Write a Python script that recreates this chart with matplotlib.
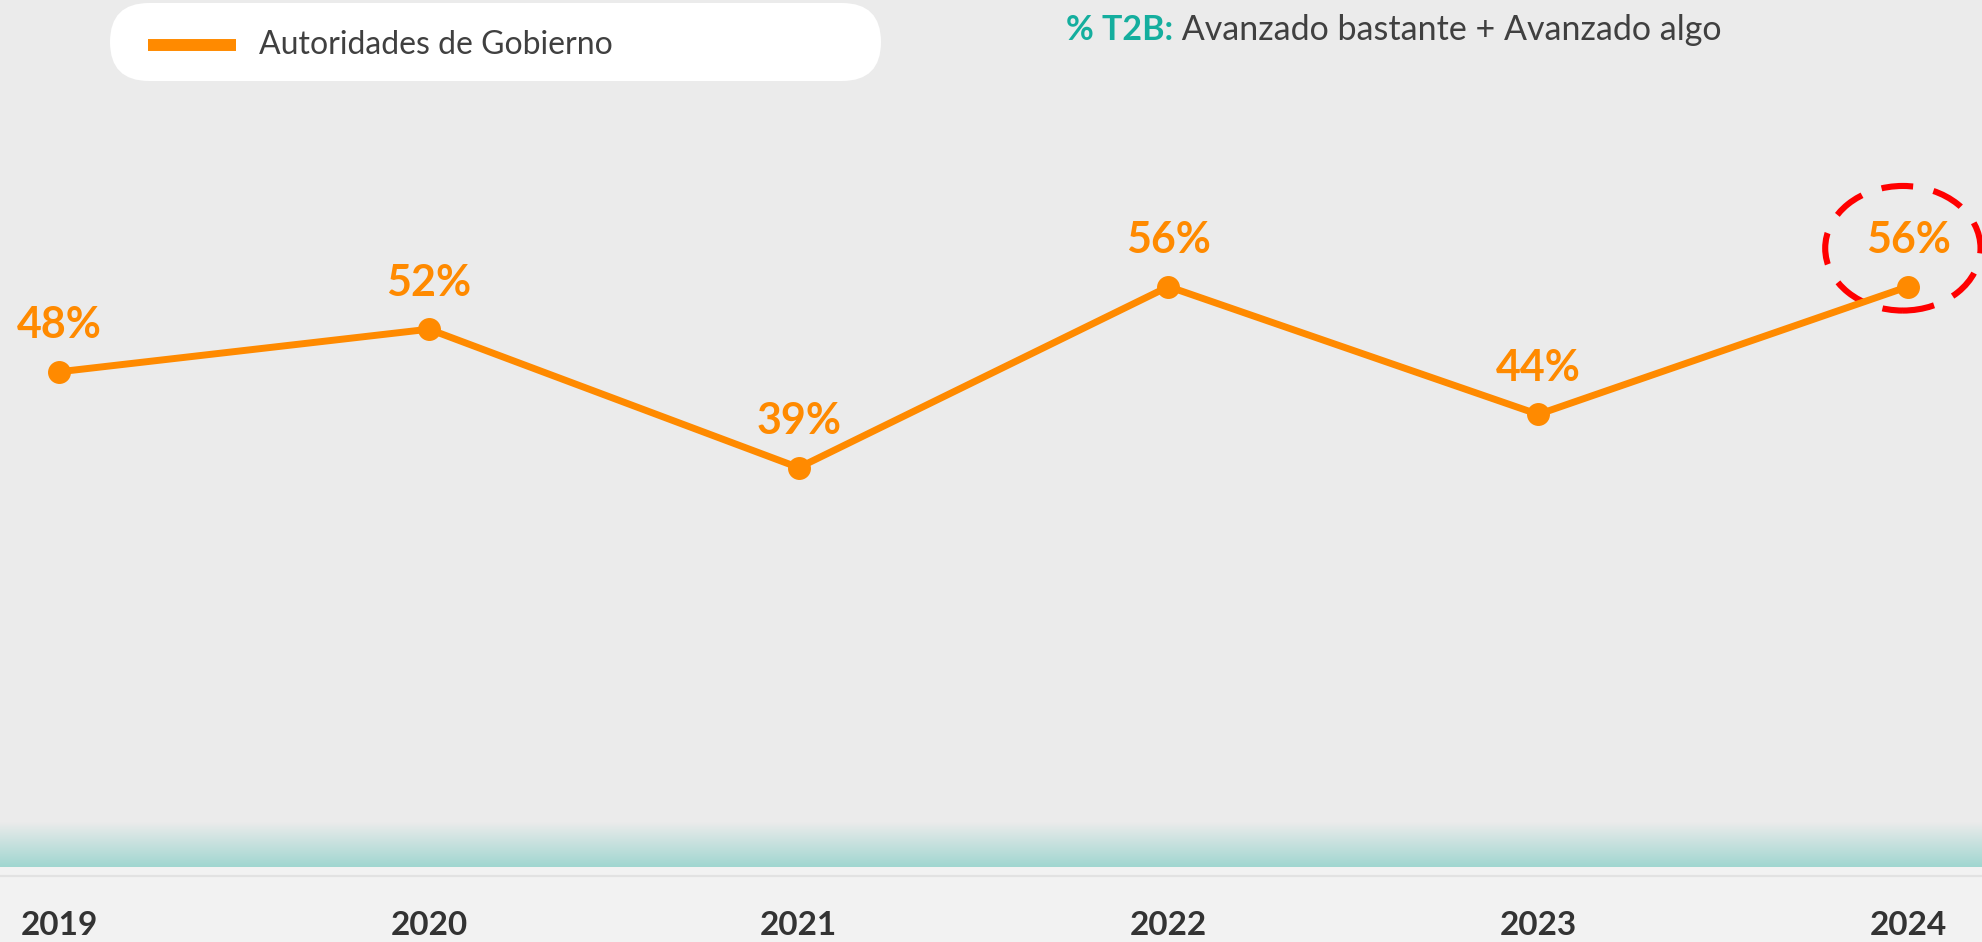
import numpy as np
import matplotlib.pyplot as plt
from matplotlib.patches import FancyBboxPatch, Ellipse, Rectangle
from matplotlib.lines import Line2D

plt.rcParams['font.family'] = ['Lato', 'DejaVu Sans']

# data
years = ['2019', '2020', '2021', '2022', '2023', '2024']
values = [48, 52, 39, 56, 44, 56]
series_name = 'Autoridades de Gobierno'

orange = '#ff8a00'
teal = '#14ae9e'
bg = '#ebebeb'
band = '#f2f2f2'

fig = plt.figure(figsize=(19.82, 9.42), dpi=100)
fig.patch.set_facecolor(band)
ax = fig.add_axes([0, 0, 1, 1])
ax.axis('off')

# background panels
ax.add_patch(Rectangle((0, 0.126), 1, 0.874, transform=ax.transAxes,
                       facecolor=bg, edgecolor='none', zorder=0))
ax.add_patch(Rectangle((0, 0), 1, 0.0796, transform=ax.transAxes,
                       facecolor=band, edgecolor='none', zorder=0))
ax.plot([0, 1], [0.0701, 0.0701], transform=ax.transAxes,
        color='#e2e2e2', lw=1.6, zorder=0)

# teal gradient strip above the year labels
c_top = np.array([0xeb, 0xeb, 0xeb]) / 255
c_bot = np.array([0xa0, 0xd6, 0xd0]) / 255
t = np.linspace(0, 1, 200)[:, None]
grad = (c_top * (1 - t) + c_bot * t)[:, None, :]
ax.imshow(grad, extent=[0, 1, 0.0796, 0.1265], transform=ax.transAxes,
          aspect='auto', zorder=0.5, interpolation='bilinear')
ax.set_xlim(-0.16, 5.20)
ax.set_ylim(-5.54, 82.91)

# highlight around the latest value
ax.add_patch(Ellipse((len(values) - 1 - 0.014, values[-1] + 3.6), 0.42, 11.7,
                     facecolor='none', edgecolor='#ff0000', lw=4.4,
                     linestyle=(0, (5.2, 3.4)), zorder=2))

x = np.arange(len(years))
ax.plot(x, values, color=orange, lw=5, marker='o', markersize=15.5,
        solid_capstyle='round', zorder=3)

for i, v in enumerate(values):
    ax.annotate(f'{v}%', (i, v), xytext=(0, 33.5), textcoords='offset points',
                ha='center', va='center', fontsize=31, fontweight='bold',
                color=orange, zorder=4)

for i, yr in enumerate(years):
    ax.text(i, 0.017, yr, transform=ax.get_xaxis_transform(), ha='center',
            va='center', fontsize=24, fontweight='bold', color='#333333')

# legend pill
fig.add_artist(FancyBboxPatch((1.10, 8.61), 7.71, 0.78,
                              boxstyle='round,pad=0,rounding_size=0.39',
                              transform=fig.dpi_scale_trans,
                              facecolor='white', edgecolor='none'))
fig.add_artist(Line2D([1.48, 2.36], [8.97, 8.97], transform=fig.dpi_scale_trans,
                      color=orange, lw=8.6, solid_capstyle='butt'))
fig.text(2.59 / 19.82, 8.97 / 9.42, series_name, ha='left', va='center',
         fontsize=23, color='#404040')

# note on the measure
t1 = fig.text(10.66 / 19.82, 9.12 / 9.42, '% T2B:', ha='left', va='center',
              fontsize=24.5, fontweight='bold', color=teal)
ax.annotate(' Avanzado bastante + Avanzado algo', xy=(1, 0.5), xycoords=t1,
            ha='left', va='center', fontsize=24.5, color='#404040',
            annotation_clip=False)

fig.savefig('out.png', dpi=100, facecolor=fig.get_facecolor())
